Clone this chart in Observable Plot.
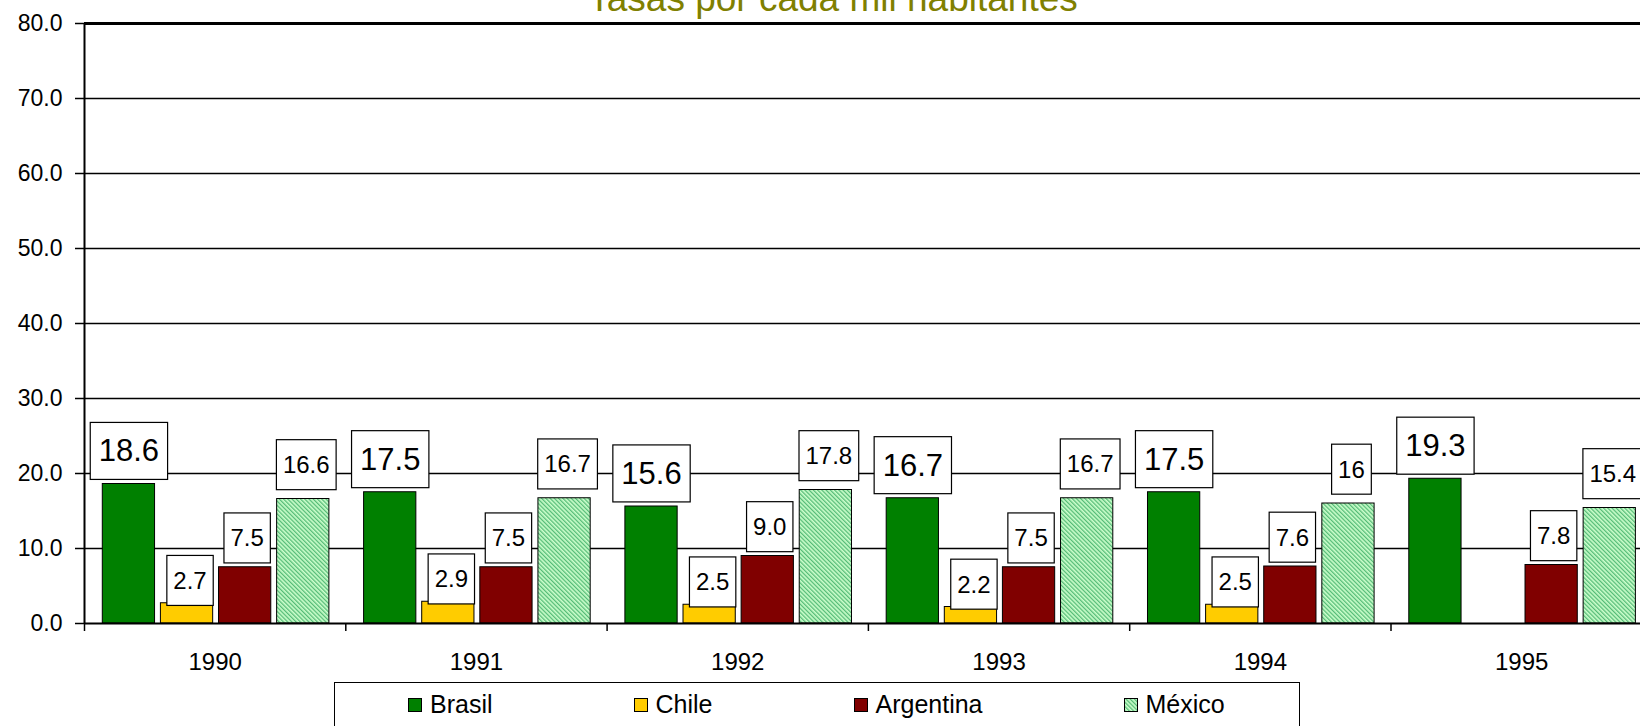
<!DOCTYPE html>
<html><head><meta charset="utf-8">
<script src="https://cdn.jsdelivr.net/npm/d3@7"></script>
<script src="https://cdn.jsdelivr.net/npm/@observablehq/plot@0.6"></script>
<style>
html,body{margin:0;padding:0;background:#fff;overflow:hidden;width:1640px;height:726px;}
body{position:relative;font-family:"Liberation Sans",Arial,sans-serif;color:#000;}
#title{position:absolute;left:833px;top:-20px;transform:translateX(-50%);font-size:37px;line-height:37px;color:#808000;white-space:nowrap;z-index:2;}
#chart{position:absolute;left:0;top:0;}
#legend{position:absolute;left:334px;top:682px;width:966px;height:70px;border:1.5px solid #000;box-sizing:border-box;background:#fff;
  display:flex;align-items:flex-start;padding-left:73px;padding-top:9px;gap:141px;}
.item{display:flex;align-items:center;font-size:25px;line-height:25px;height:25px;}
.sw{width:14px;height:14px;margin-right:8px;display:block;}
</style></head>
<body>
<svg width="0" height="0" style="position:absolute">
  <defs>
    <pattern id="mxPattern" patternUnits="userSpaceOnUse" width="3" height="3" patternTransform="rotate(-45)">
      <rect width="3" height="3" fill="#ccffcc"/>
      <rect width="1.3" height="3" fill="#55bb77"/>
    </pattern>
  </defs>
</svg>
<div id="title">Tasas por cada mil habitantes</div>
<div id="chart"></div>
<div id="legend"></div>
<script>
// ---- data ----
const years = ["1990", "1991", "1992", "1993", "1994", "1995"];
const countries = ["Brasil", "Chile", "Argentina", "México"];
const brasil = [18.6, 17.5, 15.6, 16.7, 17.5, 19.3];
const chile = [2.7, 2.9, 2.5, 2.2, 2.5, null];
const argentina = [7.5, 7.5, 9.0, 7.5, 7.6, 7.8];
const mexico = [16.6, 16.7, 17.8, 16.7, 16.0, 15.4];
const mexicoLabels = ["16.6", "16.7", "17.8", "16.7", "16", "15.4"];
const yTicks = [0, 10, 20, 30, 40, 50, 60, 70, 80];
const colors = ["#008000", "#FFCC00", "#800000", "url(#mxPattern)"];

// ---- table ----
const seriesValues = [brasil, chile, argentina, mexico];
const fmt = d3.format(".1f");
const data = [];
years.forEach((year, i) => countries.forEach((country, j) => {
  const v = seriesValues[j][i];
  if (v == null) return;
  data.push({year, i, j, country, value: v,
    label: country === "México" ? mexicoLabels[i] : fmt(v)});
}));

// layout of bars inside a year group (fractions of a group)
const groupPad = 0.07, step = 0.2224, barW = 0.2;
const bx1 = d => d.i + groupPad + d.j * step;
const bx2 = d => bx1(d) + barW;
const bxc = d => bx1(d) + barW / 2;

const labelStyle = {
  "Brasil": {fontSize: 31, dy: -32.5, dx: 0},
  "Chile": {fontSize: 24, dy: -22, dx: 3},
  "Argentina": {fontSize: 24, dy: -28.5, dx: 2},
  "México": {fontSize: 24, dy: -33.5, dx: 3}
};

const chart = Plot.plot({
  width: 1640, height: 680,
  marginLeft: 84, marginRight: 0, marginTop: 23, marginBottom: 57,
  style: {fontFamily: "Liberation Sans, Arial, sans-serif", background: "transparent", color: "#000", overflow: "visible"},
  x: {type: "linear", domain: [0, 6], range: [84, 84 + 6 * 261.3]},
  y: {domain: [0, 80]},
  color: {domain: countries, range: colors},
  marks: [
    Plot.ruleY(yTicks.filter(t => t > 0 && t < 80), {stroke: "#000", strokeWidth: 1.3}),
    Plot.ruleY([80], {stroke: "#000", strokeWidth: 3}),
    Plot.rect(data, {x1: bx1, x2: bx2, y1: 0, y2: "value", fill: "country", stroke: "#000", strokeWidth: 1}),
    Plot.ruleY([0], {stroke: "#000", strokeWidth: 2}),
    Plot.ruleX([0], {y1: 0, y2: 80, stroke: "#000", strokeWidth: 2}),
    Plot.axisY({ticks: yTicks, tickFormat: fmt, tickSize: 9, tickPadding: 13, fontSize: 23, strokeWidth: 1.5, label: null}),
    Plot.axisX({ticks: d3.range(0, 6), tickSize: 8, tickFormat: () => "", strokeWidth: 1.5, label: null}),
    Plot.axisX({ticks: years.map((_, i) => i + 0.5), tickSize: 0, tickPadding: 29, fontSize: 24, label: null,
      tickFormat: t => years[Math.floor(t)]}),
    ...countries.map(c => Plot.text(data.filter(d => d.country === c), {
      x: bxc, y: "value", text: "label", fontSize: labelStyle[c].fontSize,
      dy: labelStyle[c].dy, dx: labelStyle[c].dx, lineAnchor: "middle", fill: "#000",
      ariaLabel: d => "lbl-" + d.country
    }))
  ]
});
document.getElementById("chart").append(chart);

// white boxes with black borders behind the data labels
chart.querySelectorAll('text[aria-label^="lbl-"]').forEach(t => {
  const big = t.getAttribute("aria-label") === "lbl-Brasil";
  const padX = big ? 8.5 : 6.5, H = big ? 57 : 50;
  const b = t.getBBox();
  const r = document.createElementNS("http://www.w3.org/2000/svg", "rect");
  r.setAttribute("x", b.x - padX);
  r.setAttribute("y", b.y + b.height / 2 - H / 2);
  r.setAttribute("width", b.width + 2 * padX);
  r.setAttribute("height", H);
  r.setAttribute("fill", "#fff");
  r.setAttribute("stroke", "#000");
  r.setAttribute("stroke-width", "1.2");
  if (t.getAttribute("transform")) r.setAttribute("transform", t.getAttribute("transform"));
  t.parentNode.insertBefore(r, t);
});

// legend
const legend = document.getElementById("legend");
countries.forEach((c, j) => {
  const item = document.createElement("div");
  item.className = "item";
  item.innerHTML = `<svg class="sw" width="14" height="14"><rect x="0.5" y="0.5" width="13" height="13" fill="${colors[j]}" stroke="#000" stroke-width="1"/></svg><span>${c}</span>`;
  legend.append(item);
});
</script>
</body></html>
